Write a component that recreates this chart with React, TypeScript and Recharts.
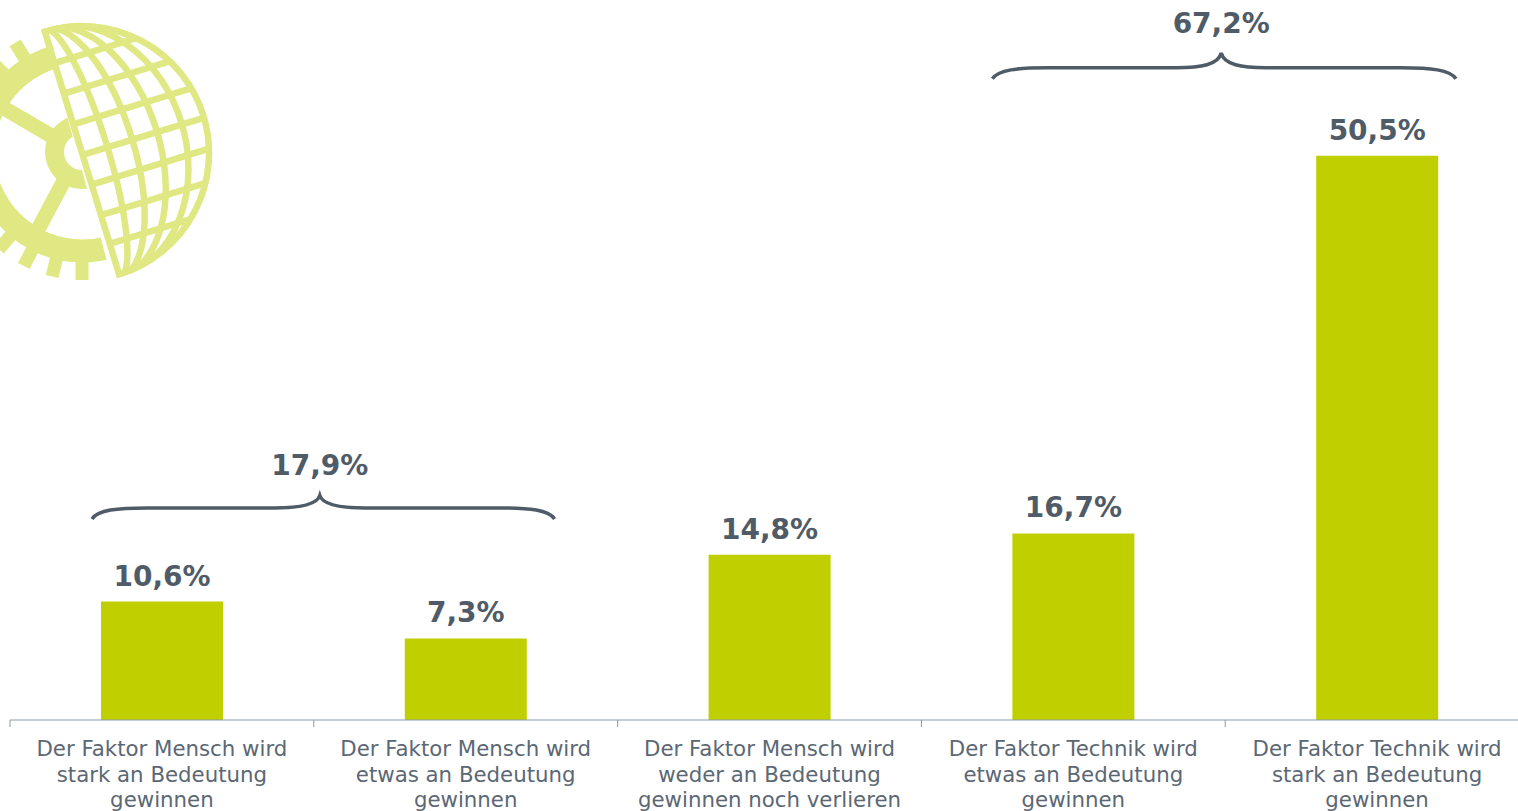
import { Bar, BarChart, LabelList, ReferenceArea, XAxis, YAxis } from "recharts";

const categories = [
  ["Der Faktor Mensch wird", "stark an Bedeutung", "gewinnen"],
  ["Der Faktor Mensch wird", "etwas an Bedeutung", "gewinnen"],
  ["Der Faktor Mensch wird", "weder an Bedeutung", "gewinnen noch verlieren"],
  ["Der Faktor Technik wird", "etwas an Bedeutung", "gewinnen"],
  ["Der Faktor Technik wird", "stark an Bedeutung", "gewinnen"],
];
const shares = [10.6, 7.3, 14.8, 16.7, 50.5];
const bracketTotals = [17.9, 67.2];
const bracketFrom = [0, 3];
const bracketTo = [1, 4];
const bracketLow = [18.0, 57.4];
const bracketHigh = [20.1, 59.7];

const INK = "#4f5c68";
const LABEL = "#5b6874";
const AXIS = "#8c99a6";
const BAR = "#bfcf00";
const LOGO = "#dfe882";
const FONT = "'DejaVu Sans', Verdana, sans-serif";

const CHART_W = 1530;
const CHART_H = 811;
const AXIS_H = 91;
const MARGIN = { top: 5, right: 1, left: 10, bottom: 0 };
const BAND = (CHART_W - MARGIN.left - MARGIN.right) / categories.length;

const rows = categories.map((lines, i) => ({ name: lines.join(" "), share: shares[i] }));

const fmt = (v: number) => `${v.toFixed(1).replace(".", ",")}%`;

function CategoryTick({ x, y, index }: any) {
  return (
    <g>
      <line x1={x - BAND / 2} x2={x - BAND / 2} y1={y - 8} y2={y - 1} stroke={AXIS} strokeWidth={1} />
      <text textAnchor="middle" fontFamily={FONT} fontSize={21.3} fill={LABEL}>
        {categories[index].map((line, i) => (
          <tspan key={i} x={x} y={y + 28 + i * 25.5}>
            {line}
          </tspan>
        ))}
      </text>
    </g>
  );
}

// curly brace over two bars, the area spans both bands so the ends get pulled in
function Brace({ x, y, width, height, total, insetLeft, insetRight, tipShift }: any) {
  const x0 = x + insetLeft;
  const x1 = x + width - insetRight;
  const tip = x + width / 2 + tipShift;
  const yb = y + height;
  const yf = yb - 11;
  const d = [
    `M${x0},${yb}`,
    `C${x0 + 6},${yf + 2} ${x0 + 25},${yf} ${x0 + 55},${yf}`,
    `L${tip - 45},${yf}`,
    `C${tip - 20},${yf} ${tip - 3},${yf - 3} ${tip},${y}`,
    `C${tip + 3},${yf - 3} ${tip + 20},${yf} ${tip + 45},${yf}`,
    `L${x1 - 55},${yf}`,
    `C${x1 - 25},${yf} ${x1 - 6},${yf + 2} ${x1},${yb}`,
  ].join(" ");
  return (
    <g>
      <path d={d} fill="none" stroke={INK} strokeWidth={3.5} />
      <text x={tip} y={y - 20} textAnchor="middle" fontFamily={FONT} fontWeight={700} fontSize={28} fill={INK}>
        {fmt(total)}
      </text>
    </g>
  );
}

const TEETH = [90, 103.5, 117, 130.5, 144, 157.5, 171, 184.5, 198, 211.5, 225, 238.5];
const MERIDIANS = [26, 52, 78, 104];
const PARALLELS = [-94, -62, -30, 2, 33, 65, 95];

function Logo() {
  return (
    <svg width={230} height={290} style={{ position: "absolute", left: 0, top: 0 }}>
      <defs>
        <clipPath id="gearClip">
          <polygon points="-60,0 35,0 115,290 -60,290" />
        </clipPath>
        <clipPath id="globeClip">
          <path d="M0,-130 A130,130 0 0 1 0,130 Z" />
        </clipPath>
      </defs>
      <g clipPath="url(#gearClip)" fill="none" stroke={LOGO}>
        <circle cx={82} cy={152} r={99} strokeWidth={23} />
        <circle cx={82} cy={152} r={27.5} strokeWidth={19} />
        <line x1={55} y1={138} x2={-5} y2={103} strokeWidth={15} />
        <line x1={67} y1={175} x2={35} y2={235} strokeWidth={15} />
        {TEETH.map((a) => (
          <rect
            key={a}
            x={105}
            y={-6.5}
            width={23}
            height={13}
            fill={LOGO}
            stroke="none"
            transform={`translate(82 152) rotate(${a})`}
          />
        ))}
      </g>
      <g transform="translate(82 153) rotate(-17)">
        <g clipPath="url(#globeClip)" fill="none" stroke={LOGO} strokeWidth={6.5}>
          {MERIDIANS.map((rx) => (
            <path key={rx} d={`M0,-130 A${rx},130 0 0 1 0,130`} />
          ))}
          {PARALLELS.map((p) => (
            <line key={p} x1={0} x2={130} y1={p} y2={p} />
          ))}
        </g>
        <path d="M0,-127 A127,127 0 0 1 0,127 Z" fill="none" stroke={LOGO} strokeWidth={6.5} />
      </g>
    </svg>
  );
}

export default function App() {
  return (
    <div style={{ position: "absolute", left: 0, top: 0, width: 1518, height: 811, overflow: "hidden", background: "#fff" }}>
      <Logo />
      <div style={{ position: "absolute", left: 0, top: 0 }}>
        <BarChart width={CHART_W} height={CHART_H} data={rows} margin={MARGIN} barCategoryGap={0}>
          <XAxis
            dataKey="name"
            interval={0}
            height={AXIS_H}
            tickLine={false}
            axisLine={{ stroke: AXIS, strokeWidth: 1 }}
            tick={<CategoryTick />}
          />
          <YAxis hide domain={[0, 64]} />
          <Bar dataKey="share" fill={BAR} barSize={122} isAnimationActive={false}>
            <LabelList
              dataKey="share"
              position="top"
              offset={16}
              formatter={(v: number) => fmt(v)}
              style={{ fontFamily: FONT, fontWeight: 700, fontSize: 28, fill: INK }}
            />
          </Bar>
          {bracketTotals.map((total, i) => (
            <ReferenceArea
              key={total}
              x1={rows[bracketFrom[i]].name}
              x2={rows[bracketTo[i]].name}
              y1={bracketLow[i]}
              y2={bracketHigh[i]}
              ifOverflow="visible"
              shape={(p: any) => (
                <Brace
                  {...p}
                  total={total}
                  insetLeft={i === 0 ? 82 : 71}
                  insetRight={i === 0 ? 63 : 73}
                  tipShift={i === 0 ? 6 : -4}
                />
              )}
            />
          ))}
        </BarChart>
      </div>
    </div>
  );
}
